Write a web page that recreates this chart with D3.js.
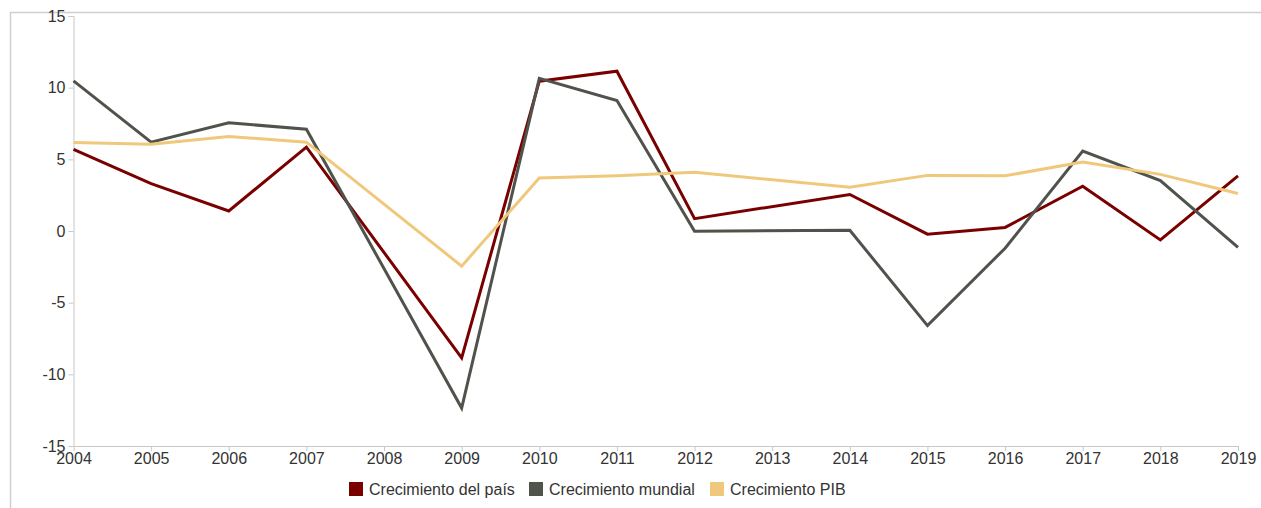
<!DOCTYPE html>
<html>
<head>
<meta charset="utf-8">
<script src="https://cdn.jsdelivr.net/npm/d3@7"></script>
<style>
  html, body { margin: 0; padding: 0; background: #fff; }
  svg { display: block; font-family: "Liberation Sans", Arial, sans-serif; }
</style>
</head>
<body>
<svg id="chart" width="1261" height="508"></svg>
<script>
const years = [2004,2005,2006,2007,2008,2009,2010,2011,2012,2013,2014,2015,2016,2017,2018,2019];
const pais    = [5.7, 3.3, 1.4, 5.85, null, -8.85, 10.45, 11.15, 0.86, null, 2.55, -0.22, 0.25, 3.12, -0.62, 3.85];
const mundial = [10.47, 6.2, 7.55, 7.1, null, -12.35, 10.65, 9.1, -0.02, null, 0.05, -6.6, -1.2, 5.58, 3.52, -1.15];
const pib     = [6.17, 6.05, 6.6, 6.2, null, -2.45, 3.7, 3.85, 4.1, null, 3.05, 3.88, 3.85, 4.82, 3.95, 2.62];
const yTicks = [-15, -10, -5, 0, 5, 10, 15];
const seriesNames = ["Crecimiento del país", "Crecimiento mundial", "Crecimiento PIB"];
const seriesColors = ["#7a0000", "#50534b", "#f0c87c"];
const seriesData = [pais, mundial, pib];

(function () {
const svg = d3.select("#chart");
const W = 1261, H = 508;
const mLeft = 73.5, mRight = 1238, mTop = 16, mBottom = 446;

// outer frame (left and top edges)
svg.append("path").attr("d", `M10.5,${H} L10.5,12.5 L${W},12.5`)
  .attr("fill", "none").attr("stroke", "#d0d0d0").attr("stroke-width", 1.5);

const x = d3.scaleLinear().domain([2004, 2019]).range([mLeft, mRight]);
const y = d3.scaleLinear().domain([-15, 15]).range([mBottom, mTop]);

const yAxis = svg.append("g").attr("transform", `translate(${mLeft},0)`)
  .call(d3.axisLeft(y).tickValues(yTicks).tickSize(5).tickPadding(3).tickFormat(d => String(d)));
const xAxis = svg.append("g").attr("transform", `translate(0,${mBottom})`)
  .call(d3.axisBottom(x).tickValues(years).tickSize(5).tickPadding(2).tickFormat(d => String(d)));
[xAxis, yAxis].forEach(a => {
  a.selectAll("path, line").attr("stroke", "#c8c8c8");
  a.selectAll("text").attr("fill", "#333").style("font-size", "16px")
    .style("font-family", "'Liberation Sans', Arial, sans-serif");
});
xAxis.select(".domain").attr("d", `M${mLeft},0.5H${mRight}`);
yAxis.select(".domain").attr("d", `M0.5,${mTop}V${mBottom}`);

const line = d3.line().x(d => x(d[0])).y(d => y(d[1]));
seriesData.forEach((vals, i) => {
  const pts = years.map((yr, j) => [yr, vals[j]]).filter(d => d[1] !== null);
  svg.append("path").datum(pts).attr("d", line)
    .attr("fill", "none").attr("stroke", seriesColors[i]).attr("stroke-width", 3)
    .attr("stroke-linejoin", "miter");
});

// legend
const legendX = [349, 529, 710];
const lg = svg.append("g");
seriesNames.forEach((name, i) => {
  lg.append("rect").attr("x", legendX[i]).attr("y", 482).attr("width", 14).attr("height", 14)
    .attr("fill", seriesColors[i]);
  lg.append("text").attr("x", legendX[i] + 20).attr("y", 495).text(name)
    .attr("fill", "#333").style("font-size", "16px");
});
})();
</script>
</body>
</html>
